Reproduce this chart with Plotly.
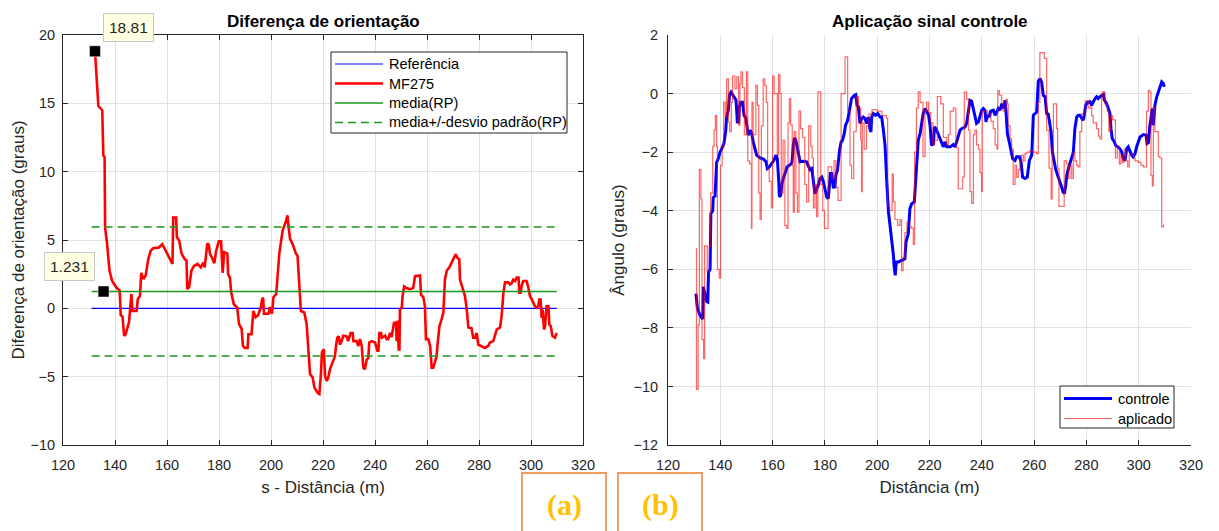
import plotly.graph_objects as go

# ---------------- data: orientation difference (left panel) ----------------
s_mf275 = [132.3, 133.6, 135.1, 135.5, 136.0, 136.2, 136.9, 137.9, 138.9, 140.6, 141.8, 142.2, 142.9,
           143.5, 144.1, 144.7, 145.4, 146.3, 146.7, 148.3, 148.8, 149.6, 150.1, 150.9, 151.8, 152.8,
           153.7, 154.7, 156.9, 158.2, 159.5, 161.2, 162.1, 162.4, 163.5, 163.8, 164.7, 165.6, 166.8,
           167.5, 167.8, 168.5, 169.4, 170.4, 171.7, 173.0, 174.0, 174.5, 175.5, 176.1, 176.5, 177.3,
           178.2, 178.9, 179.9, 180.8, 181.4, 182.0, 183.2, 183.5, 184.2, 184.7, 185.7, 187.0, 187.7,
           188.7, 189.2, 190.0, 191.0, 191.3, 192.5, 193.2, 194.1, 195.0, 196.0, 196.7, 197.0, 197.3,
           199.0, 199.6, 200.3, 200.6, 200.9, 202.0, 202.6, 203.2, 203.9, 204.5, 205.8, 206.3, 206.8,
           207.3, 208.3, 209.6, 210.2, 210.9, 211.5, 212.8, 213.7, 214.5, 215.0, 216.0, 216.7, 218.0,
           218.6, 219.2, 219.6, 220.3, 220.8, 221.4, 222.0, 222.7, 223.3, 224.2, 224.6, 225.0, 225.5,
           226.1, 226.5, 227.2, 227.8, 229.1, 229.7, 230.6, 231.4, 231.7, 232.9, 233.6, 234.2, 234.9,
           235.5, 236.1, 236.8, 237.4, 237.8, 238.7, 240.0, 240.9, 241.3, 241.7, 242.3, 242.7, 243.9,
           244.5, 245.1, 245.8, 246.4, 247.3, 248.1, 248.3, 248.7, 249.1, 249.4, 249.6, 250.3, 250.6,
           251.2, 251.9, 252.4, 253.5, 254.7, 255.4, 257.3, 257.7, 258.6, 259.2, 259.6, 260.5, 261.2,
           261.8, 262.4, 263.1, 263.7, 264.0, 264.8, 265.6, 266.3, 266.9, 267.6, 268.6, 269.5, 270.4,
           271.0, 271.7, 272.4, 272.7, 273.7, 274.6, 275.3, 275.9, 277.1, 277.8, 278.5, 279.1, 279.7,
           281.0, 282.3, 283.6, 284.2, 285.5, 286.2, 286.8, 288.1, 288.7, 289.4, 290.0, 291.3, 291.9,
           292.6, 293.2, 293.9, 294.5, 295.2, 295.5, 296.0, 296.4, 297.0, 298.3, 299.0, 299.6, 300.3,
           300.9, 301.5, 302.2, 302.8, 303.2, 303.7, 304.1, 304.5, 305.0, 305.4, 306.0, 306.7, 307.05,
           307.6, 308.2, 309.2, 309.9]
dif_mf275 = [18.81, 14.8, 14.5, 11.2, 11.05, 5.9, 4.8, 2.75, 2.0, 1.5, 1.3, -0.5, -0.6,
             -2.0, -1.9, -1.4, -1.0, 1.05, -0.2, -0.2, 0.7, 0.9, 2.6, 2.15, 2.4, 3.6,
             4.2, 4.4, 4.45, 4.7, 4.2, 3.6, 3.25, 6.65, 6.65, 5.2, 4.95, 4.0, 3.6,
             3.5, 1.4, 1.55, 2.75, 3.1, 3.25, 3.0, 3.35, 3.0, 4.75, 4.65, 4.0, 3.7,
             3.3, 4.2, 4.9, 4.9, 2.6, 4.1, 4.0, 2.5, 2.25, 1.15, 0.3, 0.05, -1.15,
             -1.5, -2.75, -2.9, -2.9, -1.9, -1.9, -0.2, -0.65, -0.5, 0.0, 0.75, 0.7, -0.4,
             -0.4, 0.1, -0.4, 0.0, 0.8, 1.05, 2.75, 4.0, 4.95, 5.7, 6.4, 6.8, 5.9,
             5.1, 4.7, 4.0, 3.85, 2.0, -0.2, -0.3, -1.15, -3.35, -4.8, -5.05, -5.8, -6.2,
             -6.27, -4.8, -3.2, -3.0, -4.95, -5.3, -5.1, -4.45, -4.1, -3.6, -3.5, -2.75, -2.15,
             -2.05, -2.65, -2.4, -2.0, -2.05, -2.4, -1.8, -1.8, -2.4, -2.4, -2.75, -2.25, -2.75,
             -4.35, -4.45, -3.75, -3.65, -2.5, -2.4, -2.5, -3.1, -3.1, -1.8, -1.8, -2.15, -2.0,
             -2.25, -2.25, -1.8, -2.1, -1.05, -1.05, -2.4, -0.9, -3.0, -3.0, -0.07, 0.05, 0.9,
             1.6, 1.5, 1.45, 1.4, 1.5, 2.35, 2.4, 1.0, 0.8, 0.15, -2.25, -2.25, -2.75,
             -4.35, -4.35, -3.85, -3.5, -2.75, -1.3, -0.8, -0.3, 2.1, 2.75, 3.0, 3.35, 3.6,
             3.95, 3.7, 3.6, 2.1, 1.4, 0.9, -0.1, -1.4, -1.45, -2.15, -2.15, -1.8, -2.65,
             -2.75, -2.9, -2.75, -2.5, -2.4, -2.0, -1.55, -1.4, -0.55, 1.15, 1.9, 1.9, 1.75,
             1.85, 2.1, 2.0, 2.25, 2.25, 1.15, 1.15, 1.65, 2.0, 2.0, 1.5, 0.9, 0.65,
             0.4, 0.15, 0.05, 0.15, 0.65, 0.65, -0.7, -0.1, -1.55, -1.3, 0.15, 0.15, -1.2,
             -1.3, -2.0, -2.15, -1.8]

referencia = 0.0
media_rp = 1.231
desvio_rp = 4.72
s_limites = [131.0, 309.9]

# data-tip points
tip_s = [132.3, 135.6]
tip_val = [18.81, 1.231]

# ---------------- data: control signal (right panel) ----------------
dist_controle = [130.7, 131.2, 132.2, 133.3, 133.5, 134.1, 134.8, 135.2, 135.5, 136.1, 136.3, 136.4, 137.1,
                 137.3, 138.0, 138.4, 138.6, 139.3, 139.9, 140.5, 140.9, 141.4, 142.1, 142.4, 143.1, 143.5,
                 144.1, 144.7, 145.4, 146.0, 146.3, 146.5, 147.0, 147.3, 147.8, 148.5, 149.1, 149.8, 150.3,
                 150.7, 151.4, 152.0, 152.6, 153.3, 153.9, 155.2, 156.5, 157.5, 158.0, 158.8, 159.6, 160.5,
                 161.3, 161.8, 162.3, 162.6, 163.1, 163.6, 164.1, 164.7, 165.1, 165.6, 166.7, 167.4, 167.9,
                 168.4, 168.9, 169.5, 170.0, 170.5, 171.7, 173.0, 173.7, 174.3, 175.0, 175.6, 176.2, 176.9,
                 177.5, 178.1, 178.8, 179.4, 180.0, 180.7, 181.3, 181.7, 182.1, 182.6, 183.2, 183.8, 184.2,
                 184.8, 185.1, 185.6, 186.2, 186.7, 187.4, 187.9, 188.7, 189.2, 189.6, 190.2, 191.3, 191.8,
                 192.3, 192.8, 193.4, 194.1, 194.7, 195.3, 196.0, 196.6, 197.3, 197.6, 197.9, 198.5, 199.4,
                 200.2, 201.1, 201.7, 202.3, 203.0, 203.6, 204.3, 204.9, 205.5, 206.2, 206.5, 206.9, 207.3,
                 208.1, 209.6, 210.6, 211.0, 211.9, 212.5, 213.2, 214.2, 214.5, 214.7, 215.2, 215.7, 216.4,
                 217.0, 217.6, 218.3, 218.9, 219.6, 220.2, 220.8, 221.5, 221.9, 222.5, 223.4, 224.0, 224.6,
                 225.3, 225.9, 226.6, 227.9, 229.1, 229.8, 230.4, 231.0, 231.7, 232.3, 233.6, 234.2, 234.9,
                 235.5, 236.1, 236.8, 237.4, 238.0, 238.7, 239.3, 239.95, 240.6, 241.2, 241.6, 242.2, 242.8,
                 243.4, 244.4, 245.1, 245.7, 246.3, 247.0, 247.6, 248.3, 248.9, 249.3, 249.8, 250.5, 251.0,
                 251.8, 252.7, 253.3, 254.4, 255.0, 255.6, 256.5, 257.4, 258.2, 259.1, 259.5, 259.7, 260.4,
                 261.0, 261.6, 262.3, 262.9, 263.5, 264.2, 264.8, 265.4, 266.1, 266.5, 267.0, 267.7, 268.2,
                 269.0, 269.5, 270.3, 271.1, 271.6, 272.1, 272.5, 273.1, 273.7, 274.4, 275.0, 275.6, 276.3,
                 276.9, 277.5, 278.2, 278.8, 279.2, 279.7, 280.5, 281.4, 282.0, 282.6, 283.3, 283.9, 284.5,
                 285.2, 285.8, 286.5, 286.9, 287.7, 288.4, 289.0, 289.4, 289.9, 290.7, 291.2, 292.0, 292.8,
                 293.5, 294.1, 294.8, 295.4, 296.0, 296.7, 297.3, 297.9, 298.6, 299.2, 299.9, 300.5, 301.8,
                 302.8, 303.2, 303.7, 304.3, 304.9, 305.2, 305.6, 306.0, 306.2, 306.9, 307.5, 308.1, 308.8,
                 309.4, 309.8]
ang_controle = [-6.83, -7.3, -7.57, -7.7, -6.6, -6.8, -7.1, -7.12, -6.1, -6.0, -5.2, -4.1, -4.0,
                -3.55, -3.5, -2.45, -2.35, -2.2, -2.0, -1.9, -1.8, -1.7, -1.25, -0.8, -0.55, -0.05,
                0.05, -0.05, -0.17, -0.22, -0.63, -0.97, -0.97, -0.45, -0.3, -0.3, -0.74, -0.85, -1.17,
                -1.42, -1.25, -1.37, -1.65, -1.94, -2.1, -2.2, -2.24, -2.33, -2.56, -2.5, -2.4, -2.28,
                -2.1, -2.22, -2.9, -3.53, -3.47, -3.07, -2.9, -2.73, -2.62, -2.5, -2.43, -2.36, -1.77,
                -1.51, -1.6, -1.82, -2.1, -2.33, -2.31, -2.33, -2.47, -2.6, -2.56, -3.08, -3.42, -3.25,
                -3.13, -2.9, -2.85, -3.0, -3.25, -3.53, -3.59, -3.25, -2.73, -2.73, -3.19, -3.19, -2.79,
                -2.62, -2.33, -1.94, -1.65, -1.6, -1.37, -1.08, -0.91, -0.63, -0.51, -0.17, -0.06, -0.04,
                -0.4, -0.45, -1.02, -0.85, -0.8, -0.85, -1.02, -0.8, -1.25, -1.31, -0.8, -0.68, -0.74,
                -0.68, -0.8, -0.8, -1.2, -1.77, -2.9, -4.04, -4.5, -4.95, -5.52, -5.92, -6.21, -5.75,
                -5.75, -5.69, -5.64, -5.07, -4.78, -3.93, -3.76, -3.7, -3.25, -3.02, -2.39, -1.59, -1.37,
                -1.02, -0.68, -0.51, -0.6, -0.72, -1.08, -1.77, -1.71, -1.14, -1.2, -1.42, -1.54, -1.65,
                -1.82, -1.65, -1.82, -1.82, -1.74, -1.82, -1.65, -1.42, -1.25, -1.2, -1.14, -1.02, -0.57,
                -0.23, -0.26, -0.57, -0.85, -1.02, -0.97, -0.8, -0.57, -0.51, -0.57, -0.97, -0.74, -0.8,
                -0.6, -0.57, -0.74, -0.63, -0.51, -0.57, -0.34, -0.51, -0.23, -0.68, -1.37, -1.65, -1.88,
                -2.22, -2.28, -2.16, -2.16, -2.33, -2.85, -2.9, -2.85, -2.28, -2.1, -1.31, -0.74, -0.68,
                -0.63, 0.42, 0.51, 0.38, -0.06, -0.1, -0.68, -0.7, -1.02, -1.31, -2.0, -2.39, -2.56,
                -2.79, -2.9, -3.13, -3.36, -3.42, -3.13, -2.79, -2.56, -2.39, -2.22, -2.0, -1.2, -0.8,
                -0.74, -0.74, -0.85, -0.91, -0.74, -0.4, -0.3, -0.28, -0.4, -0.28, -0.17, -0.11, -0.17,
                -0.11, -0.06, -0.03, -0.23, -0.34, -0.51, -0.68, -1.2, -1.54, -1.65, -1.77, -1.82, -1.88,
                -2.0, -2.22, -2.28, -1.88, -1.82, -2.0, -2.1, -2.16, -2.05, -1.82, -1.59, -1.48, -1.4,
                -1.42, -1.71, -1.68, -1.08, -0.74, -0.51, -1.08, -0.57, -0.4, -0.11, 0.06, 0.28, 0.4,
                0.34, 0.23]

dist_aplicado = [130.6, 130.9, 131.5, 132.0, 132.6, 133.0, 133.6, 134.0, 135.0, 135.8, 136.3, 137.1, 137.6,
                 138.1, 138.6, 138.9, 139.6, 140.1, 140.7, 141.3, 141.9, 142.4, 143.1, 143.6, 144.2, 144.7,
                 145.6, 146.3, 147.0, 147.5, 147.9, 148.5, 149.2, 150.0, 150.5, 151.2, 151.9, 152.1, 152.6,
                 153.6, 154.2, 154.7, 155.2, 155.7, 156.4, 157.0, 157.6, 158.1, 158.7, 159.5, 160.0, 160.6,
                 161.8, 162.3, 162.8, 163.3, 164.0, 164.7, 165.4, 165.9, 166.4, 166.9, 167.5, 167.9, 168.3,
                 168.9, 169.5, 170.1, 170.7, 171.5, 172.3, 173.0, 173.8, 174.6, 175.1, 175.6, 176.2, 176.8,
                 177.3, 178.4, 179.2, 179.8, 181.2, 182.6, 183.5, 184.2, 185.0, 186.2, 187.7, 188.7, 189.6,
                 190.2, 191.0, 192.0, 192.8, 193.7, 194.0, 194.3, 195.0, 195.9, 196.8, 198.0, 200.0, 201.8,
                 203.5, 204.0, 204.8, 205.7, 206.2, 206.8, 207.8, 208.7, 209.3, 209.9, 210.6, 211.4, 212.4,
                 213.2, 213.8, 214.3, 215.0, 215.7, 216.4, 217.5, 218.3, 218.9, 219.6, 220.5, 221.3, 222.0,
                 223.0, 224.3, 225.3, 226.6, 227.2, 227.9, 229.1, 230.1, 231.0, 232.7, 233.3, 234.2, 234.9,
                 235.5, 236.1, 236.8, 237.4, 238.0, 238.7, 239.3, 239.9, 240.2, 241.0, 242.2, 243.5, 244.4,
                 245.1, 245.8, 246.1, 246.7, 247.6, 248.2, 248.9, 249.3, 249.8, 250.1, 250.8, 251.4, 252.0,
                 252.7, 253.3, 254.0, 254.6, 255.2, 255.9, 256.5, 257.2, 258.4, 259.7, 260.9, 261.6, 262.2,
                 263.9, 264.8, 265.7, 266.5, 266.9, 267.4, 268.6, 269.0, 269.5, 271.5, 272.4, 273.1, 273.7,
                 274.4, 275.0, 275.6, 276.3, 276.9, 277.5, 278.2, 279.5, 280.7, 281.4, 282.0, 282.6, 283.9,
                 284.6, 285.2, 285.8, 286.1, 287.1, 288.0, 288.6, 289.2, 290.0, 291.1, 291.8, 292.6, 293.2,
                 293.8, 294.4, 295.0, 295.8, 296.4, 297.3, 298.0, 298.6, 299.9, 300.9, 301.8, 302.7, 303.0,
                 303.7, 304.3, 304.7, 305.2, 305.6, 306.2, 307.5, 308.1, 308.8, 309.4, 309.8]
ang_aplicado = [-5.3, -10.1, -7.9, -2.6, -3.6, -8.4, -9.05, -5.2, -6.1, -5.2, -3.4, -1.8, -1.25,
                -0.75, -1.8, -6.0, -6.3, -2.45, -1.8, -0.3, -0.8, 0.5, -0.97, -1.3, -0.3, 0.6,
                0.17, 0.57, -1.08, 0.34, 0.74, 0.2, -1.4, 0.74, -2.3, -2.4, -4.6, -0.3, -1.4,
                0.28, -0.4, -3.4, -4.3, -1.1, 0.5, 0.28, -0.3, -2.6, -3.0, -3.9, 0.6, 0.0,
                -2.1, 0.65, 0.0, -3.4, -1.6, -4.5, -4.6, -1.0, -0.17, -1.08, -2.45, -4.05, -1.3,
                -3.4, -4.05, -0.6, -1.2, -1.5, -3.1, -3.7, -1.1, -1.8, -2.2, -3.9, -3.1, -4.2,
                0.06, -3.1, -4.0, -4.6, -2.5, -2.9, -2.3, -3.2, -3.65, 0.0, 1.25, -0.6, -2.45,
                -2.9, -1.3, -0.1, -0.5, -1.6, -3.35, -1.0, -1.9, -1.1, -0.7, -0.55, -0.6, -0.75,
                -0.85, -3.85, -4.0, -2.75, -3.7, -4.3, -4.5, -4.3, -6.05, -5.6, -4.75, -4.4, -4.55,
                -4.6, -5.15, -2.0, -0.5, 0.06, -0.3, -2.15, -0.6, -0.3, -0.65, -1.0, -1.75, -1.6,
                -0.1, -0.35, -1.5, -1.75, -1.4, -0.6, -0.5, -1.85, -3.25, -2.85, 0.05, -0.2, -1.25,
                -3.35, -3.75, -1.4, -1.25, -1.75, -1.9, -2.7, -3.35, -0.6, -0.6, -0.7, -0.95, -1.2,
                -1.75, -1.9, 0.1, -0.05, -0.35, -0.6, -0.5, -0.2, -0.35, -1.1, -1.55, -1.9, -3.1,
                -2.45, -2.85, -2.6, -2.3, -2.1, -2.3, -2.05, -2.0, -1.95, -2.0, -2.05, -0.3, 1.4,
                1.2, -1.25, -2.55, -3.6, -1.9, -0.35, -1.2, -2.55, -3.85, -2.3, -2.4, -2.9, -2.45,
                -2.9, -2.0, -2.3, -2.45, -2.5, -1.3, -0.7, -0.25, -0.5, -0.45, -0.75, -1.0, -1.2,
                -1.45, -1.55, -0.17, 0.06, -0.35, -0.6, -1.3, -0.75, -0.9, -2.2, -1.8, -2.4, -2.1,
                -2.35, -1.9, -2.3, -2.5, -2.1, -2.05, -2.2, -2.3, -2.35, -2.45, -2.5, -2.5, -0.6,
                0.11, 0.05, -2.8, -3.15, -0.45, -1.3, -2.15, -2.2, -4.55, -4.5, -4.5]

# ---------------- figure geometry (pixels) ----------------
W, H = 1219, 531
ML, MR, MT, MB = 63, 28, 35, 86
PW, PH = W - ML - MR, H - MT - MB


def px(xp):
    return (xp - ML) / PW


def py(yp):
    return 1 - (yp - MT) / PH


FONT = "Liberation Sans, Arial, Helvetica, sans-serif"
AX_COL = "#262626"
GRID = "#E1E1E1"
VERDE = "#1E961E"

# line styles shared by traces and their legend keys
st_ref = dict(color="#0000FF", width=1.2)
st_mf = dict(color="#FF0000", width=2.6)
st_media = dict(color=VERDE, width=1.3)
st_desvio = dict(color=VERDE, width=1.5, dash="8px,5px")
st_ctrl = dict(color="#0000FF", width=3)
st_apl = dict(color="rgba(255,0,0,0.6)", width=1.2)

fig = go.Figure()

# ---- left panel ----
fig.add_trace(go.Scatter(x=s_limites, y=[referencia, referencia], mode="lines", line=st_ref,
                         name="Referência", xaxis="x", yaxis="y"))
fig.add_trace(go.Scatter(x=s_mf275, y=dif_mf275, mode="lines", line=st_mf,
                         name="MF275", xaxis="x", yaxis="y"))
fig.add_trace(go.Scatter(x=s_limites, y=[media_rp, media_rp], mode="lines", line=st_media,
                         name="media(RP)", xaxis="x", yaxis="y"))
sup = media_rp + desvio_rp
inf = media_rp - desvio_rp
fig.add_trace(go.Scatter(x=s_limites + [None] + s_limites, y=[sup, sup, None, inf, inf],
                         mode="lines", line=st_desvio,
                         name="media+/-desvio padrão(RP)", xaxis="x", yaxis="y"))
fig.add_trace(go.Scatter(x=tip_s, y=tip_val, mode="markers",
                         marker=dict(symbol="square", size=11, color="#000000",
                                     line=dict(color="#FFFFFF", width=0.5)),
                         xaxis="x", yaxis="y", hoverinfo="skip"))

# ---- right panel ----
fig.add_trace(go.Scatter(x=dist_controle, y=ang_controle, mode="lines", line=st_ctrl,
                         name="controle", xaxis="x2", yaxis="y2"))
fig.add_trace(go.Scatter(x=dist_aplicado, y=ang_aplicado, mode="lines", line_shape="hv",
                         line=st_apl, name="aplicado", xaxis="x2", yaxis="y2"))

tick_font = dict(family=FONT, size=14.5, color=AX_COL)
title_font = dict(family=FONT, size=17, color=AX_COL)

common_x = dict(range=[120, 320], dtick=20, tick0=120, showgrid=True, gridcolor=GRID,
                showline=True, linecolor=AX_COL, linewidth=1, ticks="inside", ticklen=5,
                tickcolor=AX_COL, tickfont=tick_font, zeroline=False, ticklabelstandoff=7)

fig.update_layout(
    width=W, height=H,
    margin=dict(l=ML, r=MR, t=MT, b=MB),
    paper_bgcolor="white", plot_bgcolor="white",
    font=dict(family=FONT),
    showlegend=False,
    xaxis=dict(common_x, domain=[px(63), px(583)], anchor="y", mirror="ticks",
               title=dict(text="s - Distância (m)", font=title_font, standoff=8)),
    yaxis=dict(range=[-10, 20], dtick=5, tick0=-10, domain=[0, 1], anchor="x",
               showgrid=True, gridcolor=GRID, showline=True, linecolor=AX_COL, linewidth=1,
               mirror="ticks", ticks="inside", ticklen=5, tickcolor=AX_COL, tickfont=tick_font,
               zeroline=False, ticklabelstandoff=4,
               title=dict(text="Diferença de orientação (graus)", font=title_font, standoff=1)),
    xaxis2=dict(common_x, domain=[px(668), px(1191)], anchor="y2",
                title=dict(text="Distância (m)", font=title_font, standoff=8)),
    yaxis2=dict(range=[-12, 2], dtick=2, tick0=-12, domain=[0, 1], anchor="x2",
                showgrid=True, gridcolor=GRID, showline=True, linecolor=AX_COL, linewidth=1,
                ticks="inside", ticklen=5, tickcolor=AX_COL, tickfont=tick_font,
                zeroline=False, ticklabelstandoff=6,
                title=dict(text="Ângulo (graus)", font=title_font, standoff=4)),
)

annotations = [
    dict(text="<b>Diferença de orientação</b>", xref="x domain", yref="paper", x=0.5, y=py(22),
         xanchor="center", yanchor="middle", showarrow=False,
         font=dict(family=FONT, size=17, color="#000000")),
    dict(text="<b>Aplicação sinal controle</b>", xref="x2 domain", yref="paper", x=0.5, y=py(22),
         xanchor="center", yanchor="middle", showarrow=False,
         font=dict(family=FONT, size=17, color="#000000")),
]
shapes = []

# boxed legends: (box left, box top, box right, box bottom, first row y, row step, entries)
legend_font = dict(family=FONT, size=14.5, color="#000000")
legendas = [
    (331, 52, 567, 133, 64.0, 19.5,
     [("Referência", st_ref), ("MF275", st_mf), ("media(RP)", st_media),
      ("media+/-desvio padrão(RP)", st_desvio)]),
    (1060, 386, 1174, 428, 398.5, 20.0,
     [("controle", st_ctrl), ("aplicado", st_apl)]),
]
for bx0, by0, bx1, by1, row0, step, entries in legendas:
    shapes.append(dict(type="rect", xref="paper", yref="paper",
                       x0=px(bx0), x1=px(bx1), y0=py(by1), y1=py(by0),
                       line=dict(color=AX_COL, width=1), fillcolor="white", layer="above"))
    for i, (label, st) in enumerate(entries):
        yy = row0 + i * step
        shapes.append(dict(type="line", xref="paper", yref="paper",
                           x0=px(bx0 + 4), x1=px(bx0 + 52), y0=py(yy), y1=py(yy),
                           line=st, layer="above"))
        annotations.append(dict(text=label, xref="paper", yref="paper",
                                x=px(bx0 + 56), y=py(yy), xanchor="left", yanchor="middle",
                                showarrow=False, font=legend_font))

# data tips
for s_val, v, axp, ayp in [(tip_s[0], tip_val[0], 34, -24), (tip_s[1], tip_val[1], -34, -25)]:
    annotations.append(dict(text=f"{v:g}", x=s_val, y=v, xref="x", yref="y",
                            showarrow=True, arrowcolor="rgba(0,0,0,0)", arrowwidth=0.1,
                            ax=axp, ay=ayp, bgcolor="#FFFFE1", bordercolor="#C8C8C8",
                            borderwidth=1, borderpad=5,
                            font=dict(family=FONT, size=15.5, color="#262626")))

# panel labels
for lab, x0, x1 in [("(a)", 522, 606), ("(b)", 618, 702)]:
    annotations.append(dict(text=f"<b>{lab}</b>", xref="paper", yref="paper",
                            x=px((x0 + x1) / 2), y=py(505), xanchor="center", yanchor="middle",
                            showarrow=False,
                            font=dict(family="Liberation Serif, Times New Roman, serif",
                                      size=30, color="#FFC000")))
    shapes.append(dict(type="rect", xref="paper", yref="paper", x0=px(x0), x1=px(x1),
                       y0=py(540), y1=py(473), line=dict(color="#ED7D31", width=1.5),
                       fillcolor="rgba(0,0,0,0)", layer="above"))

fig.update_layout(annotations=annotations, shapes=shapes)

fig.write_html("out.html")
